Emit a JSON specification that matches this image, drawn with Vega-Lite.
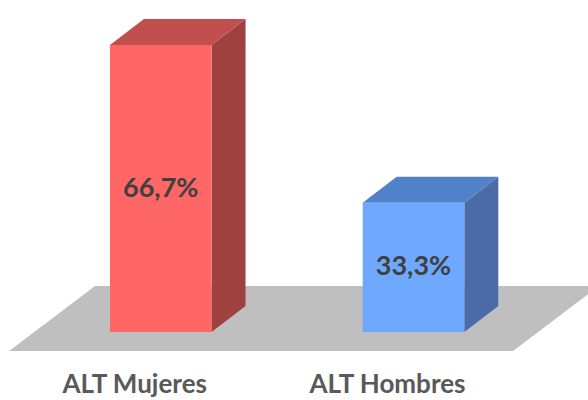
{
  "$schema": "https://vega.github.io/schema/vega-lite/v6.json",
  "width": 588,
  "height": 360,
  "padding": 0,
  "background": "white",
  "config": {"view": {"stroke": null}},
  "data": {
    "values": [
      {"grupo": "ALT Mujeres", "pct": 66.7},
      {"grupo": "ALT Hombres", "pct": 33.3}
    ]
  },
  "transform": [
    {"window": [{"op": "row_number", "as": "orden"}]},
    {"calculate": "datum.orden - 1", "as": "pos"},
    {"calculate": "datum.pos - 0.201", "as": "x0"},
    {"calculate": "datum.pos + 0.201", "as": "x1"},
    {"calculate": "5.93", "as": "base"},
    {"calculate": "replace(format(datum.pct, '.1f'), '.', ',') + '%'", "as": "etiqueta"}
  ],
  "layer": [
    {
      "description": "Suelo en perspectiva",
      "transform": [
        {"calculate": "['frente', 'fondo']", "as": "borde"},
        {"flatten": ["borde"]},
        {"calculate": "datum.orden == 1 ? (datum.borde == 'frente' ? datum.pos - 0.6 : datum.pos - 0.26) : (datum.borde == 'frente' ? datum.pos + 0.394 : datum.pos + 0.7335)", "as": "sx"},
        {"calculate": "datum.orden == 1 || datum.borde == 'frente' ? datum.base - 4.02 : datum.base + 9.74", "as": "sy"},
        {"calculate": "datum.orden == 1 && datum.borde == 'frente' ? datum.base - 4.02 : datum.base + 9.74", "as": "sy2"}
      ],
      "mark": {"type": "area", "orient": "vertical", "clip": true, "color": "#BFBFBF"},
      "encoding": {
        "x": {"field": "sx", "type": "quantitative", "scale": {"domain": [-0.636, 1.6904], "nice": false, "zero": false}, "axis": null},
        "y": {"field": "sy", "type": "quantitative", "scale": {"domain": [0, 76.23], "nice": false, "zero": false}, "axis": null},
        "y2": {"field": "sy2"}
      }
    },
    {
      "description": "Caras laterales",
      "transform": [
        {"calculate": "[0, 1]", "as": "k"},
        {"flatten": ["k"]},
        {"calculate": "datum.x1 + 0.1345 * datum.k", "as": "sx"},
        {"calculate": "datum.base + 5.51 * datum.k", "as": "sy"},
        {"calculate": "datum.pct + 5.51 * datum.k", "as": "sy2"}
      ],
      "mark": {"type": "area", "orient": "vertical"},
      "encoding": {
        "x": {"field": "sx", "type": "quantitative", "scale": {"domain": [-0.636, 1.6904], "nice": false, "zero": false}, "axis": null},
        "y": {"field": "sy", "type": "quantitative", "scale": {"domain": [0, 76.23], "nice": false, "zero": false}, "axis": null},
        "y2": {"field": "sy2"},
        "fill": {"field": "grupo", "type": "nominal", "scale": {"domain": ["ALT Mujeres", "ALT Hombres"], "range": ["#A04141", "#4A6BA6"]}, "legend": null}
      }
    },
    {
      "description": "Caras superiores",
      "transform": [
        {"calculate": "[0, 1, 2, 3]", "as": "k"},
        {"flatten": ["k"]},
        {"calculate": "datum.k == 0 ? datum.x0 : datum.k == 1 ? datum.x0 + 0.1345 : datum.k == 2 ? datum.x1 : datum.x1 + 0.1345", "as": "sx"},
        {"calculate": "datum.k == 3 ? datum.pct + 5.51 : datum.pct", "as": "sy"},
        {"calculate": "datum.k == 0 ? datum.pct : datum.pct + 5.51", "as": "sy2"}
      ],
      "mark": {"type": "area", "orient": "vertical"},
      "encoding": {
        "x": {"field": "sx", "type": "quantitative", "scale": {"domain": [-0.636, 1.6904], "nice": false, "zero": false}, "axis": null},
        "y": {"field": "sy", "type": "quantitative", "scale": {"domain": [0, 76.23], "nice": false, "zero": false}, "axis": null},
        "y2": {"field": "sy2"},
        "fill": {"field": "grupo", "type": "nominal", "scale": {"domain": ["ALT Mujeres", "ALT Hombres"], "range": ["#C0504E", "#5181C8"]}, "legend": null}
      }
    },
    {
      "description": "Caras frontales",
      "mark": {"type": "rect"},
      "encoding": {
        "x": {"field": "x0", "type": "quantitative", "scale": {"domain": [-0.636, 1.6904], "nice": false, "zero": false}, "axis": null},
        "x2": {"field": "x1"},
        "y": {"field": "base", "type": "quantitative", "scale": {"domain": [0, 76.23], "nice": false, "zero": false}, "axis": null},
        "y2": {"field": "pct"},
        "fill": {"field": "grupo", "type": "nominal", "scale": {"domain": ["ALT Mujeres", "ALT Hombres"], "range": ["#FF6666", "#6FA8FF"]}, "legend": null}
      }
    },
    {
      "description": "Valores",
      "transform": [{"calculate": "(datum.base + datum.pct) / 2", "as": "medio"}],
      "mark": {"type": "text", "font": "Lato", "fontWeight": "bold", "fontSize": 27, "color": "#404040", "baseline": "middle", "align": "center"},
      "encoding": {
        "x": {"field": "pos", "type": "quantitative", "scale": {"domain": [-0.636, 1.6904], "nice": false, "zero": false}, "axis": null},
        "y": {"field": "medio", "type": "quantitative", "scale": {"domain": [0, 76.23], "nice": false, "zero": false}, "axis": null},
        "text": {"field": "etiqueta"}
      }
    },
    {
      "description": "Nombres de las categorías",
      "transform": [
        {"calculate": "datum.pos - 0.103", "as": "xc"},
        {"calculate": "datum.base - 12.95", "as": "yc"}
      ],
      "mark": {"type": "text", "font": "Lato", "fontWeight": "bold", "fontSize": 26, "color": "#595959", "baseline": "alphabetic", "align": "center"},
      "encoding": {
        "x": {"field": "xc", "type": "quantitative", "scale": {"domain": [-0.636, 1.6904], "nice": false, "zero": false}, "axis": null},
        "y": {"field": "yc", "type": "quantitative", "scale": {"domain": [0, 76.23], "nice": false, "zero": false}, "axis": null},
        "text": {"field": "grupo"}
      }
    }
  ],
  "resolve": {"scale": {"fill": "independent"}}
}
